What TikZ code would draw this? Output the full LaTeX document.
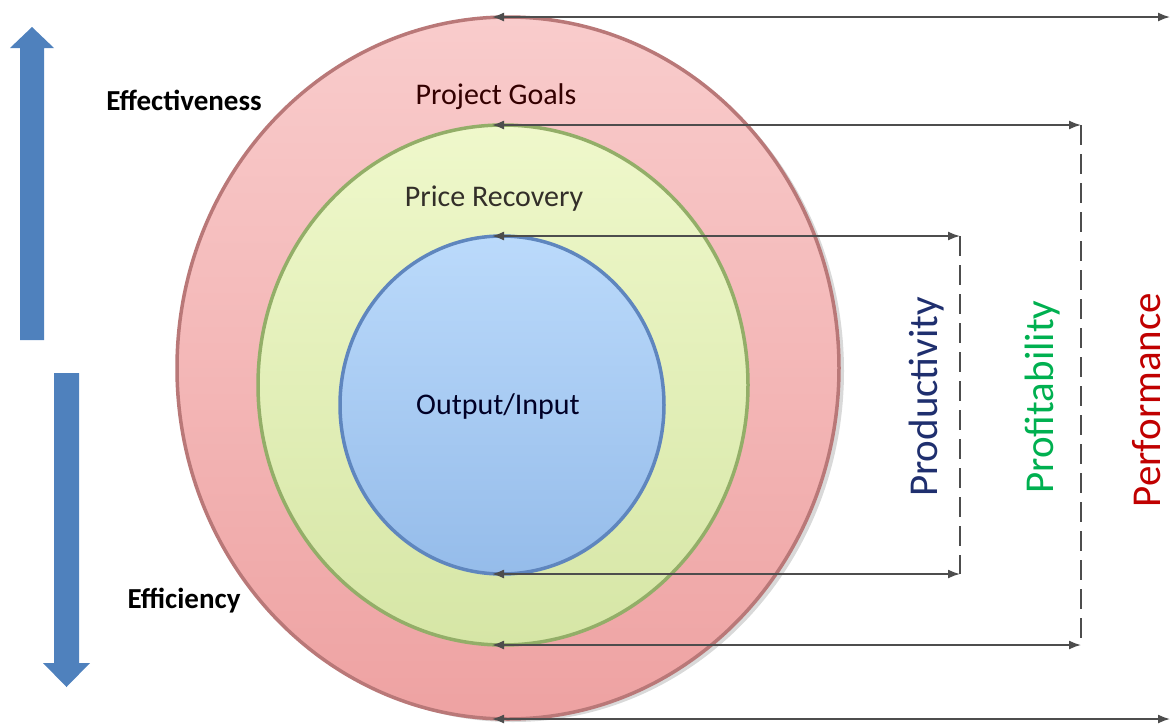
\documentclass[tikz,border=0pt]{standalone}
\usepackage{fontspec}
\setmainfont{Carlito}
\usepackage{tikz}
\usetikzlibrary{shapes.geometric}
\usetikzlibrary{arrows.meta}
\usetikzlibrary{shadows}

\definecolor{ringred}{HTML}{B97878}
\definecolor{ringgreen}{HTML}{93AE68}
\definecolor{ringblue}{HTML}{5F86BE}
\definecolor{redtop}{HTML}{F9CCCC}
\definecolor{redbot}{HTML}{EEA2A2}
\definecolor{greentop}{HTML}{EFF8CB}
\definecolor{greenbot}{HTML}{D6E6A6}
\definecolor{bluetop}{HTML}{BBDAFB}
\definecolor{bluebot}{HTML}{95BCEA}
\definecolor{blockblue}{HTML}{4F81BD}
\definecolor{linegray}{HTML}{4D4D4D}
\definecolor{prodcol}{HTML}{1F2F6E}
\definecolor{profcol}{HTML}{00B050}
\definecolor{perfcol}{HTML}{C00000}

\tikzset{
  ring/.style={ellipse, line width=3.5pt, inner sep=0pt, outer sep=0pt},
  ringtext/.style={font=\fontsize{30}{36}\selectfont},
  sidetext/.style={font=\bfseries\fontsize{29}{34}\selectfont, text=black},
  dimtext/.style={rotate=90, font=\fontsize{41}{48}\selectfont},
  bracket/.style={draw=linegray, line width=1.6pt, {Latex[length=12pt,width=9pt]}-{Latex[length=12pt,width=9pt]}},
  dashline/.style={draw=linegray, line width=1.6pt, dash pattern=on 20pt off 9pt}
}

\begin{document}
\begin{tikzpicture}[x=1pt, y=-1pt]
\useasboundingbox (0,0) rectangle (1171,724);

% the three rings
\node at (508,368)[ring, draw=ringred, top color=redtop, bottom color=redbot, drop shadow={opacity=0.3, shadow xshift=5pt, shadow yshift=-3pt}, minimum width=662pt, minimum height=702pt] (goals) {};
\node at (503,385)[ring, draw=ringgreen, top color=greentop, bottom color=greenbot, minimum width=490pt, minimum height=520pt] (recovery) {};
\node at (502,405)[ring, draw=ringblue, top color=bluetop, bottom color=bluebot, minimum width=324pt, minimum height=338pt] (ratio) {};

\node at (496,97)[ringtext, text=black!80!red] (goalstext) {Project Goals};
\node at (494,199)[ringtext, text=black!85!olive] (recoverytext) {Price Recovery};
\node at (498,406)[ringtext, text=black!85!blue] (ratiotext) {Output/Input};

% block arrows on the left
\fill[blockblue] (20,340) -- (20,48) -- (10,48) -- (32,27) -- (54,48) -- (44,48) -- (44,340) -- cycle;
\fill[blockblue] (54,373) -- (54,663) -- (43,663) -- (66.5,687) -- (90,663) -- (79,663) -- (79,373) -- cycle;
\node at (184,100)[sidetext] (effect) {Effectiveness};
\node at (184,601)[sidetext] (effic) {Efficiency};

% brackets
\coordinate (prod ne) at (960,236);
\coordinate (prod se) at (960,574);
\coordinate (prof ne) at (1081,125);
\coordinate (prof se) at (1081,645);
\coordinate (perf ne) at (1170,17);
\coordinate (perf se) at (1170,719);

\draw[bracket] ([xshift=-10pt]ratio.north) -- (prod ne);
\draw[bracket] ([xshift=-10pt]ratio.south) -- (prod se);
\draw[dashline] (prod ne) -- (prod se);

\draw[bracket] ([xshift=-11pt]recovery.north) -- (prof ne);
\draw[bracket] ([xshift=-11pt]recovery.south) -- (prof se);
\draw[dashline] (prof ne) -- (prof se);

\draw[bracket] ([xshift=-16pt]goals.north) -- (perf ne);
\draw[bracket] ([xshift=-16pt]goals.south) -- (perf se);

\node at (927,397)[dimtext, text=prodcol] (prodlabel) {Productivity};
\node at (1043,397)[dimtext, text=profcol] (proflabel) {Profitability};
\node at (1147,400)[dimtext, text=perfcol] (perflabel) {Performance};
\end{tikzpicture}
\end{document}
